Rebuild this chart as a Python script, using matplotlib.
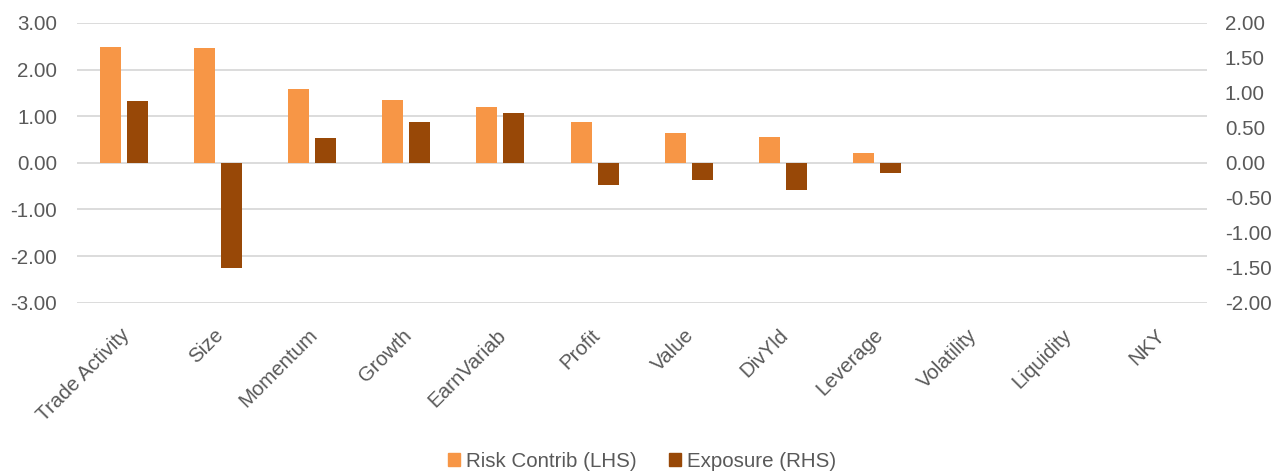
import matplotlib
matplotlib.use("Agg")
import matplotlib.pyplot as plt
import matplotlib.transforms as mtransforms
import numpy as np

# Factor data
factors = ["Trade Activity", "Size", "Momentum", "Growth", "EarnVariab", "Profit",
           "Value", "DivYld", "Leverage", "Volatility", "Liquidity", "NKY"]
risk_contrib = [2.48, 2.47, 1.58, 1.34, 1.20, 0.87, 0.65, 0.55, 0.21, 0.0, 0.0, 0.0]
exposure = [0.88, -1.50, 0.35, 0.58, 0.72, -0.32, -0.25, -0.39, -0.14, 0.0, 0.0, 0.0]
left_ticks = [-3, -2, -1, 0, 1, 2, 3]
right_ticks = [-2.0, -1.5, -1.0, -0.5, 0.0, 0.5, 1.0, 1.5, 2.0]

plt.rcParams["font.family"] = ["Liberation Sans", "DejaVu Sans"]
TEXT = "#595959"
GRID = "#D9D9D9"
C_RISK = "#F79646"
C_EXP = "#984807"
FS = 14.8

fig = plt.figure(figsize=(12.84, 4.73), dpi=100)
ax = fig.add_axes([0.0597, 0.360, 0.8801, 0.5914])
ax2 = ax.twinx()

x = np.arange(len(factors))
w = 0.223
off = 0.143
ax.bar(x - off, risk_contrib, width=w, color=C_RISK, zorder=3)
ax2.bar(x + off, exposure, width=w, color=C_EXP, zorder=3)

ax.set_xlim(-0.5, len(factors) - 0.5)
ax.set_ylim(-3, 3)
ax2.set_ylim(-2, 2)
ax.set_yticks(left_ticks)
ax.set_yticklabels([f"{v:.2f}" for v in left_ticks])
ax2.set_yticks(right_ticks)
ax2.set_yticklabels([f"{v:.2f}" for v in right_ticks])

ax.grid(axis="y", color=GRID, linewidth=1.3, zorder=0)
ax.set_axisbelow(True)
for a in (ax, ax2):
    for s in a.spines.values():
        s.set_visible(False)
    a.tick_params(length=0, labelsize=FS, labelcolor=TEXT)
ax.tick_params(axis="y", pad=14)
ax2.tick_params(axis="y", pad=13)

ax.set_xticks(x)
ax.set_xticklabels(factors, rotation=45, ha="right", va="top",
                   rotation_mode="anchor")
shift = mtransforms.ScaledTranslation(-4 / 100, -18 / 100, fig.dpi_scale_trans)
for lbl in ax.get_xticklabels():
    lbl.set_transform(lbl.get_transform() + shift)

handles = [plt.Rectangle((0, 0), 1, 1, color=C_RISK),
           plt.Rectangle((0, 0), 1, 1, color=C_EXP)]
fig.legend(handles, ["Risk Contrib (LHS)", "Exposure (RHS)"], loc="center",
           bbox_to_anchor=(0.5, 0.025), ncol=2, frameon=False, fontsize=FS,
           labelcolor=TEXT, handlelength=0.55, handleheight=0.55,
           handletextpad=0.3, columnspacing=1.6)

fig.savefig("out.png", dpi=100)
